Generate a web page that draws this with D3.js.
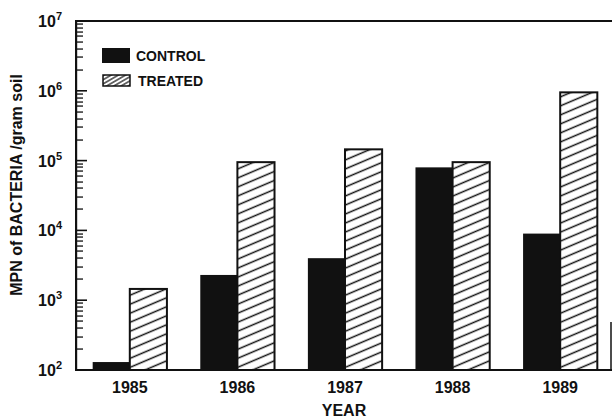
<!DOCTYPE html>
<html>
<head>
<meta charset="utf-8">
<script src="https://cdn.jsdelivr.net/npm/d3@7"></script>
<style>
  html, body { margin: 0; padding: 0; background: #fff; }
  svg { display: block; }
  text.lbl { font-family: "Liberation Sans", Arial, sans-serif; font-weight: bold; fill: #111; }
</style>
</head>
<body>
<svg id="chart" width="612" height="420"></svg>
<script>
// ---- data ----
const years = ["1985", "1986", "1987", "1988", "1989"];
const seriesNames = ["CONTROL", "TREATED"];
const control = [130, 2300, 4000, 80000, 9000];
const treated = [1450, 95000, 145000, 95000, 950000];
const yTickExponents = [2, 3, 4, 5, 6, 7];
const minorMultipliers = [2, 3, 4, 5, 6, 7, 8, 9];
const xTitle = "YEAR";
const yTitle = "MPN of BACTERIA /gram soil";

const svg = d3.select("#chart");

const x = d3.scaleBand().domain(years).range([76, 614]).paddingInner(0.31).paddingOuter(0.155);
const xs = d3.scaleBand().domain(seriesNames).range([0, x.bandwidth()]).padding(0);
const y = d3.scaleLog().domain([100, 1e7]).range([370, 21]);

const defs = svg.append("defs");
function hatch(id, spacing, angle, sw) {
  const p = defs.append("pattern")
    .attr("id", id).attr("patternUnits", "userSpaceOnUse")
    .attr("width", 20).attr("height", spacing)
    .attr("patternTransform", `rotate(${angle})`);
  p.append("rect").attr("width", 20).attr("height", spacing).attr("fill", "#fff");
  p.append("line").attr("x1", 0).attr("x2", 20).attr("y1", spacing / 2).attr("y2", spacing / 2)
    .attr("stroke", "#111").attr("stroke-width", sw);
}
hatch("hatch", 8.3, -23, 1.5);
hatch("hatchSmall", 3.6, -30, 1.2);

// frame lines
svg.append("line").attr("x1", 76).attr("x2", 612).attr("y1", y(1e7)).attr("y2", y(1e7))
  .attr("stroke", "#111").attr("stroke-width", 2);
svg.append("line").attr("x1", 611).attr("x2", 611).attr("y1", 322).attr("y2", y(100))
  .attr("stroke", "#111").attr("stroke-width", 1.5);

// bars
const groups = svg.append("g").selectAll("g").data(years).join("g")
  .attr("transform", d => `translate(${x(d)},0)`);
groups.append("rect")
  .attr("x", xs("CONTROL")).attr("width", xs.bandwidth())
  .attr("y", (d, i) => y(control[i])).attr("height", (d, i) => y(100) - y(control[i]))
  .attr("fill", "#111");
groups.append("rect")
  .attr("x", xs("TREATED")).attr("width", xs.bandwidth())
  .attr("y", (d, i) => y(treated[i])).attr("height", (d, i) => y(100) - y(treated[i]))
  .attr("fill", "url(#hatch)").attr("stroke", "#111").attr("stroke-width", 2);

// baseline
svg.append("line").attr("x1", 75).attr("x2", 612).attr("y1", y(100)).attr("y2", y(100))
  .attr("stroke", "#111").attr("stroke-width", 2);

// y axis: vertical line and inward ticks, positioned by the log scale
const minorVals = [];
yTickExponents.slice(0, -1).forEach(e => minorMultipliers.forEach(m => minorVals.push(m * Math.pow(10, e))));
const majorVals = yTickExponents.map(e => Math.pow(10, e));

const axisG = svg.append("g");
axisG.append("rect").attr("x", 75).attr("y", y(1e7) - 1).attr("width", 2.2).attr("height", y(100) - y(1e7) + 2)
  .attr("fill", "#111");
axisG.selectAll("rect.minor").data(minorVals).join("rect").attr("class", "minor")
  .attr("x", 76).attr("width", 7)
  .attr("y", d => Math.round(y(d)) - 0.6).attr("height", 1.3)
  .attr("fill", "#111");
axisG.selectAll("rect.major").data(majorVals).join("rect").attr("class", "major")
  .attr("x", 76).attr("width", 11)
  .attr("y", d => y(d) - 0.8).attr("height", 1.6)
  .attr("fill", "#111");

// y tick labels
const yl = svg.append("g").selectAll("text").data(yTickExponents).join("text")
  .attr("class", "lbl")
  .attr("x", 62).attr("y", e => y(Math.pow(10, e)) + 6)
  .attr("text-anchor", "end").attr("font-size", 16);
yl.append("tspan").text("10");
yl.append("tspan").attr("dy", -7).attr("font-size", 11).text(e => e);

// x tick labels
svg.append("g").selectAll("text").data(years).join("text")
  .attr("class", "lbl")
  .attr("x", d => x(d) + x.bandwidth() / 2).attr("y", 393)
  .attr("text-anchor", "middle").attr("font-size", 16).text(d => d);

// axis titles
svg.append("text").attr("class", "lbl").attr("x", 344).attr("y", 416).attr("text-anchor", "middle")
  .attr("font-size", 16).text(xTitle);
svg.append("text").attr("class", "lbl").attr("transform", "translate(22,185) rotate(-90)")
  .attr("text-anchor", "middle").attr("font-size", 16).text(yTitle);

// legend
const legend = svg.append("g");
legend.append("rect").attr("x", 102).attr("y", 48).attr("width", 28).attr("height", 15).attr("fill", "#111");
legend.append("rect").attr("x", 103).attr("y", 75).attr("width", 27).attr("height", 11)
  .attr("fill", "url(#hatchSmall)").attr("stroke", "#111").attr("stroke-width", 1.5);
legend.append("text").attr("class", "lbl").attr("x", 136).attr("y", 61).attr("font-size", 14).text(seriesNames[0]);
legend.append("text").attr("class", "lbl").attr("x", 138).attr("y", 86).attr("font-size", 14).text(seriesNames[1]);
</script>
</body>
</html>
